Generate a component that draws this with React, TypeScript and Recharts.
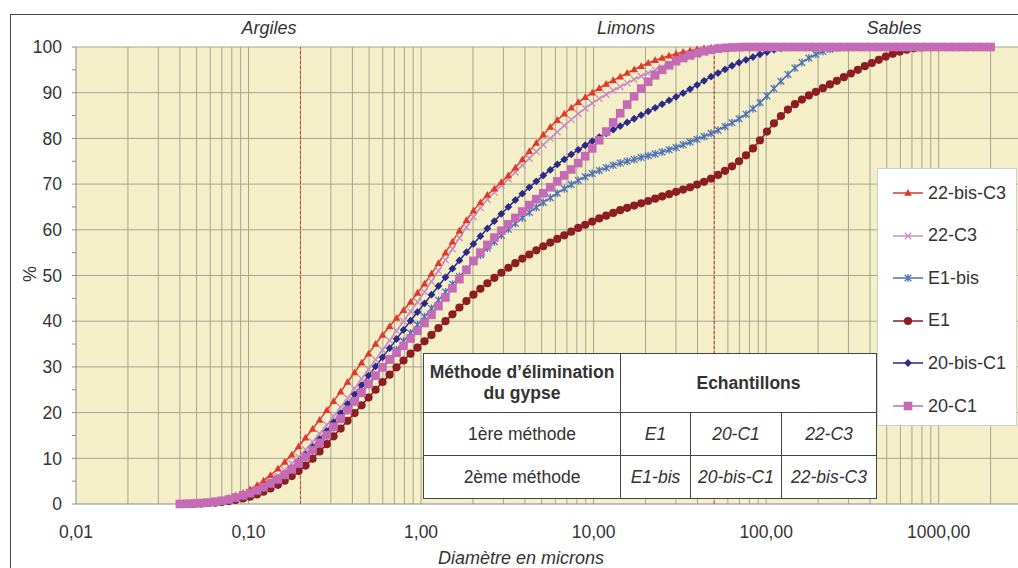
import React from 'react';
import { LineChart, Line, XAxis, YAxis, CartesianGrid, ReferenceLine } from 'recharts';

const FONT = '"Liberation Sans", Arial, Helvetica, sans-serif';
const TEXT = '#333333';

// Channel diameters (µm)
const diametres = [
  0.04, 0.044, 0.048, 0.053, 0.058, 0.064, 0.07, 0.077, 0.084, 0.093,
  0.102, 0.112, 0.122, 0.134, 0.148, 0.162, 0.178, 0.195, 0.214, 0.235,
  0.258, 0.284, 0.311, 0.342, 0.375, 0.412, 0.452, 0.496, 0.545, 0.598,
  0.657, 0.721, 0.791, 0.869, 0.953, 1.047, 1.149, 1.261, 1.385, 1.52,
  1.668, 1.832, 2.011, 2.207, 2.423, 2.66, 2.92, 3.205, 3.519, 3.863,
  4.24, 4.655, 5.11, 5.61, 6.158, 6.76, 7.421, 8.147, 8.943, 9.817,
  10.78, 11.83, 12.99, 14.26, 15.65, 17.18, 18.86, 20.71, 22.73, 24.95,
  27.39, 30.07, 33.01, 36.24, 39.78, 43.67, 47.94, 52.62, 57.77, 63.41,
  69.61, 76.42, 83.89, 92.09, 101.1, 111, 121.8, 133.7, 146.8, 161.2,
  176.9, 194.2, 213.2, 234.1, 256.9, 282.1, 309.6, 339.9, 373.1, 409.6,
  449.7, 493.6, 541.9, 594.9, 653, 716.9, 786.9, 863.9, 948.3, 1041,
  1143, 1255, 1377, 1512, 1660, 1822, 2000,
];

const serie22bisC3 = [
  0, 0.05, 0.1, 0.2, 0.35, 0.6, 0.9, 1.3, 1.8, 2.4,
  3.2, 4.1, 5.1, 6.3, 7.7, 9.2, 10.8, 12.6, 14.5, 16.4,
  18.4, 20.5, 22.5, 24.6, 26.7, 28.8, 30.9, 32.9, 35.0, 37.0,
  38.9, 40.7, 42.4, 44.2, 46.2, 48.2, 50.4, 52.7, 55.0, 57.4,
  59.8, 62.1, 64.2, 66.0, 67.6, 69.0, 70.4, 71.9, 73.6, 75.4,
  77.2, 79.0, 80.8, 82.5, 84.0, 85.4, 86.7, 87.9, 89.0, 90.0,
  91.0, 91.9, 92.7, 93.5, 94.3, 95.1, 95.8, 96.5, 97.1, 97.6,
  98.1, 98.5, 98.9, 99.2, 99.5, 99.7, 99.85, 99.95, 100, 100,
  100, 100, 100, 100, 100, 100, 100, 100, 100, 100,
  100, 100, 100, 100, 100, 100, 100, 100, 100, 100,
  100, 100, 100, 100, 100, 100, 100, 100, 100, 100,
  100, 100, 100, 100, 100, 100, 100,
];

const serie22C3 = [
  0, 0.05, 0.1, 0.15, 0.25, 0.45, 0.7, 1.0, 1.4, 1.9,
  2.5, 3.2, 4.0, 5.0, 6.1, 7.4, 8.8, 10.3, 11.9, 13.6,
  15.4, 17.3, 19.2, 21.2, 23.2, 25.3, 27.4, 29.5, 31.6, 33.7,
  35.8, 37.9, 40.0, 42.1, 44.2, 46.4, 48.7, 51.0, 53.4, 55.8,
  58.2, 60.6, 62.8, 64.8, 66.6, 68.2, 69.7, 71.1, 72.6, 74.1,
  75.6, 77.1, 78.6, 80.0, 81.4, 82.8, 84.1, 85.4, 86.6, 87.7,
  88.7, 89.6, 90.5, 91.3, 92.1, 92.9, 93.6, 94.3, 95.0, 95.6,
  96.2, 96.8, 97.3, 97.8, 98.3, 98.7, 99.1, 99.4, 99.7, 99.9,
  100, 100, 100, 100, 100, 100, 100, 100, 100, 100,
  100, 100, 100, 100, 100, 100, 100, 100, 100, 100,
  100, 100, 100, 100, 100, 100, 100, 100, 100, 100,
  100, 100, 100, 100, 100, 100, 100,
];

const serieE1bis = [
  0, 0.05, 0.1, 0.2, 0.3, 0.45, 0.65, 0.9, 1.3, 1.7,
  2.2, 2.8, 3.5, 4.3, 5.2, 6.2, 7.4, 8.7, 10.1, 11.6,
  13.2, 14.9, 16.7, 18.5, 20.4, 22.3, 24.2, 26.1, 28.0, 29.9,
  31.8, 33.7, 35.6, 37.4, 39.2, 41.0, 42.8, 44.6, 46.4, 48.1,
  49.8, 51.4, 53.0, 54.5, 56.0, 57.4, 58.8, 60.1, 61.4, 62.6,
  63.8, 64.9, 66.0, 67.0, 68.0, 69.0, 69.9, 70.8, 71.6, 72.3,
  73.0, 73.6, 74.1, 74.6, 75.0, 75.4, 75.8, 76.2, 76.6, 77.0,
  77.5, 78.0, 78.6, 79.2, 79.8, 80.4, 81.1, 81.8, 82.6, 83.4,
  84.3, 85.3, 86.5, 87.8, 89.3, 90.9, 92.5, 94.0, 95.4, 96.6,
  97.6, 98.4, 99.0, 99.5, 99.8, 99.95, 100, 100, 100, 100,
  100, 100, 100, 100, 100, 100, 100, 100, 100, 100,
  100, 100, 100, 100, 100, 100, 100,
];

const serieE1 = [
  0, 0.03, 0.07, 0.12, 0.2, 0.3, 0.45, 0.65, 0.9, 1.2,
  1.6, 2.1, 2.7, 3.4, 4.2, 5.1, 6.1, 7.2, 8.4, 9.9,
  11.5, 13.1, 14.8, 16.5, 18.2, 19.9, 21.6, 23.3, 25.0, 26.7,
  28.3, 29.9, 31.4, 32.9, 34.2, 35.6, 37.0, 38.5, 40.0, 41.5,
  43.0, 44.4, 45.8, 47.1, 48.3, 49.5, 50.6, 51.7, 52.7, 53.7,
  54.6, 55.5, 56.4, 57.2, 58.0, 58.8, 59.6, 60.4, 61.1, 61.8,
  62.5, 63.1, 63.7, 64.3, 64.8, 65.3, 65.8, 66.3, 66.8, 67.3,
  67.8, 68.3, 68.8, 69.3, 69.9, 70.5, 71.2, 72.0, 72.9, 73.9,
  75.0, 76.3, 77.8, 79.6, 81.5, 83.3, 84.9, 86.3, 87.5, 88.5,
  89.4, 90.2, 91.0, 91.8, 92.6, 93.4, 94.2, 95.0, 95.8, 96.5,
  97.2, 97.9, 98.5, 99.0, 99.4, 99.7, 99.9, 100, 100, 100,
  100, 100, 100, 100, 100, 100, 100,
];

const serie20bisC1 = [
  0, 0.05, 0.1, 0.2, 0.3, 0.5, 0.7, 1.0, 1.4, 1.9,
  2.5, 3.1, 3.8, 4.7, 5.7, 6.8, 8.0, 9.4, 10.9, 12.5,
  14.2, 16.0, 17.9, 19.9, 21.9, 24.0, 26.0, 28.1, 30.1, 32.1,
  34.1, 36.1, 38.1, 40.1, 42.0, 43.9, 45.8, 47.7, 49.6, 51.5,
  53.3, 55.1, 56.9, 58.6, 60.3, 61.9, 63.5, 65.0, 66.5, 67.9,
  69.3, 70.6, 71.9, 73.1, 74.3, 75.4, 76.5, 77.5, 78.5, 79.4,
  80.3, 81.1, 81.9, 82.7, 83.5, 84.3, 85.1, 85.9, 86.7, 87.5,
  88.3, 89.1, 89.9, 90.8, 91.7, 92.6, 93.5, 94.3, 95.1, 95.9,
  96.6, 97.2, 97.8, 98.4, 98.9, 99.4, 99.7, 99.9, 100, 100,
  100, 100, 100, 100, 100, 100, 100, 100, 100, 100,
  100, 100, 100, 100, 100, 100, 100, 100, 100, 100,
  100, 100, 100, 100, 100, 100, 100,
];

const serie20C1 = [
  0, 0.05, 0.1, 0.2, 0.3, 0.5, 0.7, 1.0, 1.4, 1.9,
  2.4, 3.0, 3.7, 4.5, 5.4, 6.4, 7.6, 8.9, 10.3, 11.8,
  13.4, 15.1, 16.9, 18.7, 20.6, 22.5, 24.4, 26.3, 28.1, 29.9,
  31.6, 33.1, 34.6, 36.2, 37.9, 39.6, 41.4, 43.3, 45.2, 47.2,
  49.2, 51.2, 53.2, 55.0, 56.7, 58.3, 59.8, 61.2, 62.6, 64.0,
  65.4, 66.7, 68.0, 69.3, 70.6, 71.9, 73.2, 74.6, 76.1, 77.8,
  79.6, 81.5, 83.5, 85.5, 87.4, 89.2, 90.9, 92.4, 93.8, 95.0,
  96.0, 96.9, 97.6, 98.2, 98.7, 99.1, 99.4, 99.65, 99.8, 99.9,
  99.97, 100, 100, 100, 100, 100, 100, 100, 100, 100,
  100, 100, 100, 100, 100, 100, 100, 100, 100, 100,
  100, 100, 100, 100, 100, 100, 100, 100, 100, 100,
  100, 100, 100, 100, 100, 100, 100,
];

const xTicks = [0.01, 0.1, 1, 10, 100, 1000];
const yTicks = [0, 5, 10, 15, 20, 25, 30, 35, 40, 45, 50, 55, 60, 65, 70, 75, 80, 85, 90, 95, 100];
const yGrid = [10, 20, 30, 40, 50, 60, 70, 80, 90, 100];
const xGrid = [
  0.02, 0.03, 0.04, 0.05, 0.06, 0.07, 0.08, 0.09,
  0.1, 0.2, 0.3, 0.4, 0.5, 0.6, 0.7, 0.8, 0.9,
  1, 2, 3, 4, 5, 6, 7, 8, 9,
  10, 20, 30, 40, 50, 60, 70, 80, 90,
  100, 200, 300, 400, 500, 600, 700, 800, 900,
  1000, 2000,
];
const limites = [0.2, 50];
const zones = ['Argiles', 'Limons', 'Sables'];

type Shape = 'triangle' | 'x' | 'star' | 'circle' | 'diamond' | 'square';

const series: { key: string; name: string; color: string; shape: Shape }[] = [
  { key: 'c22bis', name: '22-bis-C3', color: '#E2372B', shape: 'triangle' },
  { key: 'c22', name: '22-C3', color: '#C98CC2', shape: 'x' },
  { key: 'e1bis', name: 'E1-bis', color: '#4D72B8', shape: 'star' },
  { key: 'e1', name: 'E1', color: '#8C1D22', shape: 'circle' },
  { key: 'c20bis', name: '20-bis-C1', color: '#2B2A8A', shape: 'diamond' },
  { key: 'c20', name: '20-C1', color: '#C56BB6', shape: 'square' },
];
const drawOrder = ['e1', 'e1bis', 'c20bis', 'c22', 'c22bis', 'c20'];

const data = diametres.map((d, i) => ({
  d,
  c22bis: serie22bisC3[i],
  c22: serie22C3[i],
  e1bis: serieE1bis[i],
  e1: serieE1[i],
  c20bis: serie20bisC1[i],
  c20: serie20C1[i],
}));

function Marker({ shape, color, cx, cy }: { shape: Shape; color: string; cx: number; cy: number }) {
  switch (shape) {
    case 'triangle':
      return <polygon points={`${cx},${cy - 4} ${cx - 3.8},${cy + 2.8} ${cx + 3.8},${cy + 2.8}`} fill={color} />;
    case 'x':
      return (
        <path
          d={`M${cx - 3.2},${cy - 3.2}L${cx + 3.2},${cy + 3.2}M${cx - 3.2},${cy + 3.2}L${cx + 3.2},${cy - 3.2}`}
          stroke={color}
          strokeWidth={1.3}
          fill="none"
        />
      );
    case 'star':
      return (
        <path
          d={`M${cx - 3.3},${cy - 3.3}L${cx + 3.3},${cy + 3.3}M${cx - 3.3},${cy + 3.3}L${cx + 3.3},${cy - 3.3}M${cx},${cy - 4}L${cx},${cy + 4}`}
          stroke={color}
          strokeWidth={1.3}
          fill="none"
        />
      );
    case 'circle':
      return <circle cx={cx} cy={cy} r={4.1} fill={color} />;
    case 'diamond':
      return <polygon points={`${cx},${cy - 3.9} ${cx + 3.9},${cy} ${cx},${cy + 3.9} ${cx - 3.9},${cy}`} fill={color} />;
    case 'square':
    default:
      return <rect x={cx - 4.3} y={cy - 4.3} width={8.6} height={8.6} fill={color} />;
  }
}

const makeDot = (shape: Shape, color: string, key: string) => (props: any) => {
  const { cx, cy, index } = props;
  if (cx == null || cy == null || isNaN(cx) || isNaN(cy)) return <g key={`${key}-${index}`} />;
  return (
    <g key={`${key}-${index}`}>
      <Marker shape={shape} color={color} cx={cx} cy={cy} />
    </g>
  );
};

const fmtX = (v: number) => v.toFixed(2).replace('.', ',');
const fmtY = (v: number) => (v % 10 === 0 ? String(v) : '');

const tickStyle = { fill: TEXT, fontSize: 17.5, fontFamily: FONT };

export default function App() {
  const zonePos = [269, 626, 894];
  return (
    <div
      style={{
        position: 'absolute',
        left: 0,
        top: 0,
        width: 1018,
        height: 568,
        overflow: 'hidden',
        background: '#ffffff',
        fontFamily: FONT,
      }}
    >
      <div
        style={{
          position: 'absolute',
          left: 10,
          top: 14,
          width: 1100,
          height: 700,
          borderLeft: '1.5px solid #444',
          borderTop: '1.5px solid #444',
        }}
      />
      <div style={{ position: 'absolute', left: 0, top: 0 }}>
        <LineChart width={1030} height={568} data={data} margin={{ top: 47, right: 9, left: 20, bottom: 34 }}>
          <CartesianGrid fill="#F4EEC9" stroke="none" horizontal={false} vertical={false} />
          {xGrid.map((v) => (
            <ReferenceLine key={`gx-${v}`} x={v} stroke="#A8A48C" strokeWidth={1} />
          ))}
          {yGrid.map((v) => (
            <ReferenceLine key={`gy-${v}`} y={v} stroke="#A8A48C" strokeWidth={1} />
          ))}
          {limites.map((v) => (
            <ReferenceLine key={`lim-${v}`} x={v} stroke="#D9342B" strokeWidth={1} strokeDasharray="3 2" />
          ))}
          <XAxis
            dataKey="d"
            type="number"
            scale="log"
            domain={[0.01, 3000]}
            allowDataOverflow
            ticks={xTicks}
            interval={0}
            tickFormatter={fmtX}
            tickLine={false}
            tickSize={0}
            tickMargin={22}
            height={30}
            axisLine={{ stroke: '#8A8A8A' }}
            tick={tickStyle}
          />
          <YAxis
            type="number"
            domain={[0, 100]}
            ticks={yTicks}
            interval={0}
            tickFormatter={fmtY}
            width={56}
            tickSize={4}
            tickMargin={10}
            axisLine={{ stroke: '#8A8A8A' }}
            tickLine={{ stroke: '#8A8A8A' }}
            tick={tickStyle}
          />
          {drawOrder.map((k) => {
            const s = series.find((x) => x.key === k)!;
            return (
              <Line
                key={s.key}
                type="linear"
                dataKey={s.key}
                name={s.name}
                stroke={s.color}
                strokeWidth={1.5}
                dot={makeDot(s.shape, s.color, s.key)}
                activeDot={false}
                isAnimationActive={false}
              />
            );
          })}
        </LineChart>
      </div>

      {zones.map((z, i) => (
        <div
          key={z}
          style={{
            position: 'absolute',
            left: zonePos[i] - 60,
            width: 120,
            top: 18,
            textAlign: 'center',
            fontStyle: 'italic',
            fontSize: 18,
            color: TEXT,
          }}
        >
          {z}
        </div>
      ))}

      <div
        style={{
          position: 'absolute',
          left: 421,
          width: 200,
          top: 548,
          textAlign: 'center',
          fontStyle: 'italic',
          fontSize: 18,
          color: TEXT,
        }}
      >
        Diamètre en microns
      </div>

      <div
        style={{
          position: 'absolute',
          left: 18,
          top: 262,
          width: 24,
          height: 24,
          transform: 'rotate(-90deg)',
          textAlign: 'center',
          fontSize: 18,
          lineHeight: '24px',
          color: TEXT,
        }}
      >
        %
      </div>

      {/* Legend */}
      <div
        style={{
          position: 'absolute',
          left: 877,
          top: 168,
          width: 140,
          height: 258,
          background: '#ffffff',
          border: '1px solid #cfcfcf',
          boxSizing: 'border-box',
        }}
      >
        {series.map((s, i) => (
          <div
            key={s.key}
            style={{
              position: 'absolute',
              left: 14,
              top: 24 - 12 + i * 42.6,
              height: 24,
              display: 'flex',
              alignItems: 'center',
              whiteSpace: 'nowrap',
            }}
          >
            <svg width={32} height={24} style={{ display: 'block' }}>
              <line x1={1} y1={12} x2={31} y2={12} stroke={s.color} strokeWidth={1.5} />
              <Marker shape={s.shape} color={s.color} cx={16} cy={12} />
            </svg>
            <span style={{ marginLeft: 4, fontSize: 18, color: TEXT }}>{s.name}</span>
          </div>
        ))}
      </div>

      {/* Table */}
      <table
        style={{
          position: 'absolute',
          left: 423,
          top: 353,
          width: 453,
          borderCollapse: 'collapse',
          background: '#ffffff',
          fontSize: 17.5,
          color: TEXT,
          tableLayout: 'fixed',
        }}
      >
        <colgroup>
          <col style={{ width: 197 }} />
          <col style={{ width: 70 }} />
          <col style={{ width: 91 }} />
          <col style={{ width: 95 }} />
        </colgroup>
        <tbody>
          <tr style={{ height: 59 }}>
            <td style={{ border: '1.5px solid #444', textAlign: 'center', fontWeight: 'bold', lineHeight: '21px', padding: 0 }}>
              Méthode d’élimination
              <br />
              du gypse
            </td>
            <td colSpan={3} style={{ border: '1.5px solid #444', textAlign: 'center', fontWeight: 'bold', padding: 0 }}>
              Echantillons
            </td>
          </tr>
          <tr style={{ height: 43 }}>
            <td style={{ border: '1.5px solid #444', textAlign: 'center', padding: 0 }}>1ère méthode</td>
            <td style={{ border: '1.5px solid #444', textAlign: 'center', fontStyle: 'italic', padding: 0 }}>E1</td>
            <td style={{ border: '1.5px solid #444', textAlign: 'center', fontStyle: 'italic', padding: 0 }}>20-C1</td>
            <td style={{ border: '1.5px solid #444', textAlign: 'center', fontStyle: 'italic', padding: 0 }}>22-C3</td>
          </tr>
          <tr style={{ height: 43 }}>
            <td style={{ border: '1.5px solid #444', textAlign: 'center', padding: 0 }}>2ème méthode</td>
            <td style={{ border: '1.5px solid #444', textAlign: 'center', fontStyle: 'italic', padding: 0 }}>E1-bis</td>
            <td style={{ border: '1.5px solid #444', textAlign: 'center', fontStyle: 'italic', padding: 0 }}>20-bis-C1</td>
            <td style={{ border: '1.5px solid #444', textAlign: 'center', fontStyle: 'italic', padding: 0 }}>22-bis-C3</td>
          </tr>
        </tbody>
      </table>
    </div>
  );
}
